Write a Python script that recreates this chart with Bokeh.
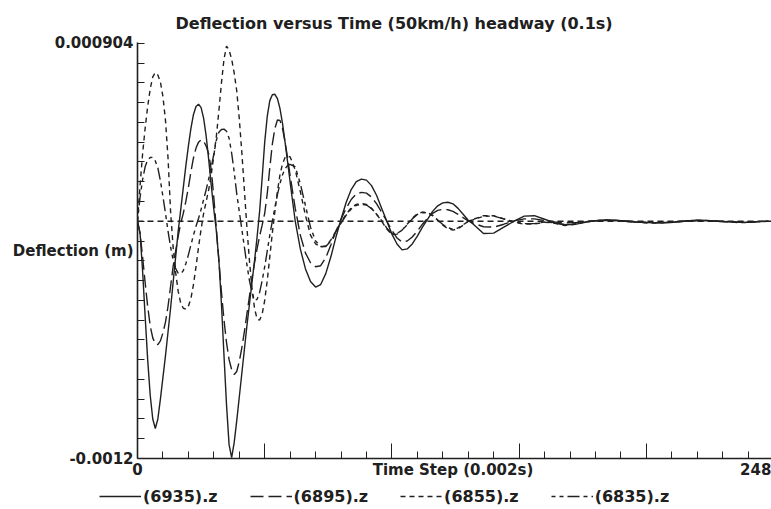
import numpy as np
from bokeh.plotting import figure
from bokeh.models import Range1d, FixedTicker, Span, Legend, LegendItem, LinearAxis
from bokeh.embed import file_html
from bokeh.resources import INLINE

TITLE = "Deflection versus Time (50km/h) headway (0.1s)"
X_LABEL = "Time Step (0.002s)"
Y_LABEL = "Deflection (m)"
SERIES_NAMES = ["(6935).z", "(6895).z", "(6855).z", "(6835).z"]

# time steps (sampling of the read-off curves)
steps = list(range(0, 61)) + list(range(62, 131, 2)) + list(range(132, 249, 4))

# deflection values in micrometres (1e-6 m)
z6935_um = [0, -60, -250, -480, -700, -880, -1000, -1048, -1000, -900, -790, -680, -560, -440, -310,
            -180, -50, 60, 170, 280, 380, 470, 540, 580, 592, 575, 520, 430, 310, 180,
            60, -50, -200, -420, -680, -930, -1130, -1195, -1120, -1010, -890, -770, -650, -530, -420,
            -310, -200, -80, 50, 220, 400, 530, 610, 640, 642, 620, 570, 495, 400, 300, 197,
            0, -140, -240, -305, -333, -320, -265, -180, -80, 10, 95, 160, 200, 213, 208, 180, 130,
            65, 0, -65, -115, -145, -140, -115, -75, -30, 10, 50, 78, 93, 96, 88, 65, 35, 5,
            -15, -62, -60, -30, 0, 26, 28, 10, -8, -18, -16, -6, 3, 6, 5, 0, -4, -7, -8, -8,
            -4, 1, 5, 4, 0, -3, -6, -5, -2, 0]
z6895_um = [0, -60, -180, -310, -430, -530, -590, -620, -624, -605, -565, -510, -430, -330, -230,
            -150, -75, -10, 40, 100, 170, 250, 320, 370, 400, 412, 405, 380, 340, 260,
            120, -40, -200, -360, -500, -615, -700, -750, -775, -760, -710, -640, -560, -470, -380,
            -290, -210, -140, -75, -20, 40, 140, 270, 390, 470, 512, 510, 470, 400, 320, 230,
            65, -70, -160, -210, -230, -225, -185, -120, -50, 10, 65, 110, 138, 146, 142, 122, 88,
            45, 0, -45, -85, -105, -100, -80, -50, -15, 15, 40, 55, 60, 58, 50, 35, 18, 2,
            -10, -28, -30, -15, 2, 12, 12, 4, -4, -8, -8, -3, 2, 4, 3, 0, -3, -5, -6, -5,
            -2, 1, 3, 3, 0, -2, -4, -4, -2, 0]
z6855_um = [0, 180, 340, 470, 580, 670, 730, 752, 740, 705, 630, 510, 320, 50, -130,
            -260, -355, -415, -440, -445, -430, -390, -320, -230, -130, -40, 40, 100, 160, 240,
            330, 430, 560, 700, 820, 886, 865, 820, 750, 660, 520, 350, 160, -30, -200,
            -340, -440, -495, -500, -470, -400, -300, -180, -60, 50, 150, 235, 290, 322, 331, 325,
            260, 150, 30, -70, -115, -130, -125, -95, -50, -5, 35, 68, 85, 90, 85, 65, 35,
            0, -40, -68, -65, -45, -15, 15, 38, 46, 44, 30, 5, -20, -38, -45, -38, -20, 0,
            10, 28, 28, 12, -5, -15, -14, -5, -10, -22, -15, -3, 3, 6, 4, 0, -5, -8, -9, -7,
            -3, 2, 5, 3, 0, -3, -7, -6, -2, 0]
z6835_um = [0, 120, 210, 275, 310, 322, 323, 305, 270, 205, 125, 40, -50, -130, -195,
            -240, -262, -266, -250, -215, -170, -120, -70, -25, 15, 60, 110, 160, 215, 275,
            340, 410, 450, 464, 466, 455, 420, 345, 250, 140, 50, -40, -130, -220, -300,
            -360, -400, -395, -360, -300, -230, -150, -70, 0, 70, 135, 190, 235, 265, 282, 288,
            275, 190, 80, -30, -100, -128, -128, -100, -55, -10, 30, 62, 80, 86, 82, 64, 35,
            3, -35, -62, -62, -45, -18, 12, 34, 44, 42, 28, 6, -17, -33, -40, -34, -18, 0,
            8, 25, 26, 12, -3, -12, -12, -4, -8, -18, -13, -3, 2, 5, 4, 0, -4, -7, -8, -6,
            -2, 2, 4, 3, 0, -2, -6, -5, -2, 0]

Y_TOP = 0.000904
Y_BOTTOM = -0.0012
Y_MID = (Y_TOP + Y_BOTTOM) / 2
X_END = 248
X_MID = X_END / 2
X_END_LABEL_AT = 243          # "248" is printed right-aligned at the axis end
X_TICKS = [0, 50, 100, 150, 200]
X_MINOR = [t for t in range(10, 250, 10) if t % 50 != 0]
Y_MINOR = [k * 1e-4 for k in range(-11, 10)]

FONT = "DejaVu Sans"
INK = "#202020"
DASHES = ["solid", "13 5", "5 4", "4 4 4 4 12 4"]

p = figure(width=771, height=481, x_range=Range1d(0, 249.2), y_range=Range1d(Y_BOTTOM, Y_TOP),
           output_backend="svg", toolbar_location=None, title=TITLE)
p.min_border_left = 137
p.min_border_right = 0
p.min_border_top = 42
p.min_border_bottom = 23
p.background_fill_color = "white"
p.border_fill_color = "white"
p.outline_line_color = None
p.grid.visible = False

p.title.text_font = FONT
p.title.text_font_style = "bold"
p.title.text_font_size = "16px"
p.title.text_color = INK
p.title.align = "left"
p.title.offset = 38
p.title.standoff = 20

zero = Span(location=0, dimension="width", line_color=INK, line_dash="6 4", line_width=1.3)
p.add_layout(zero)

y_m = [np.array(v) * 1e-6 for v in (z6935_um, z6895_um, z6855_um, z6835_um)]
for yv, d in zip(y_m, DASHES):
    p.line(steps, yv, line_color=INK, line_width=1.4, line_dash=d)

# bottom axis: the tick marks
xa = p.xaxis[0]
xa.ticker = FixedTicker(ticks=X_TICKS, minor_ticks=X_MINOR)
xa.major_label_overrides = {t: "" for t in X_TICKS}
xa.major_tick_in = 15
xa.major_tick_out = 0
xa.minor_tick_in = 7
xa.minor_tick_out = 0
xa.axis_line_width = 1.6
xa.axis_line_color = INK
xa.major_tick_line_color = INK
xa.minor_tick_line_color = INK
xa.major_label_text_font_size = "1px"
xa.major_label_standoff = 0

# bottom axis: the texts on one line (0, title, 248)
xb = LinearAxis(ticker=FixedTicker(ticks=[0, X_MID, X_END_LABEL_AT], minor_ticks=[]))
xb.major_label_overrides = {0: "0", X_MID: X_LABEL, X_END_LABEL_AT: str(X_END)}
xb.axis_line_color = None
xb.major_tick_line_color = None
xb.minor_tick_line_color = None
xb.major_tick_in = 0
xb.major_tick_out = 0
xb.minor_tick_in = 0
xb.minor_tick_out = 0
xb.major_label_standoff = 2
xb.major_label_text_font = FONT
xb.major_label_text_font_style = "bold"
xb.major_label_text_font_size = "15px"
xb.major_label_text_color = INK
p.add_layout(xb, "below")

ya = p.yaxis[0]
ya.ticker = FixedTicker(ticks=[Y_BOTTOM, Y_MID, Y_TOP], minor_ticks=Y_MINOR)
ya.major_label_overrides = {Y_BOTTOM: "-0.0012", Y_MID: Y_LABEL, Y_TOP: "0.000904"}
ya.major_tick_in = 0
ya.major_tick_out = 0
ya.minor_tick_in = 7
ya.minor_tick_out = 0
ya.axis_line_width = 1.6
ya.axis_line_color = INK
ya.major_tick_line_color = INK
ya.minor_tick_line_color = INK
ya.major_label_text_font = FONT
ya.major_label_text_font_style = "bold"
ya.major_label_text_font_size = "15px"
ya.major_label_text_color = INK
ya.major_label_standoff = 4

# legend strip under the chart (its key lines carry the same data, kept out of its view)
lg = figure(width=771, height=28, output_backend="svg", toolbar_location=None,
            x_axis_type=None, y_axis_type=None,
            x_range=Range1d(0, 249.2), y_range=Range1d(1.0, 2.0))
lg.min_border = 0
lg.min_border_left = 0
lg.min_border_right = 0
lg.min_border_top = 0
lg.min_border_bottom = 0
lg.outline_line_color = None
lg.grid.visible = False
lg.background_fill_color = "white"
lg.border_fill_color = "white"
keys = [lg.line(steps, yv, line_color=INK, line_width=1.4, line_dash=d) for yv, d in zip(y_m, DASHES)]
legend = Legend(items=[LegendItem(label=n, renderers=[r]) for n, r in zip(SERIES_NAMES, keys)],
                orientation="horizontal", location=(96, 0))
legend.glyph_width = 42
legend.label_standoff = 2
legend.spacing = 32
legend.padding = 3
legend.margin = 0
legend.border_line_alpha = 0
legend.background_fill_alpha = 0
legend.label_text_font = FONT
legend.label_text_font_style = "bold"
legend.label_text_font_size = "16px"
legend.label_text_color = INK
lg.add_layout(legend)

open("out.html", "w").write(file_html([p, lg], INLINE))
